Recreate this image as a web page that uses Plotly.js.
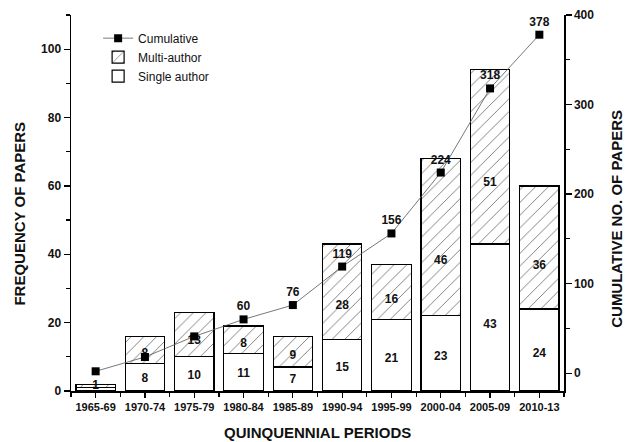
<!DOCTYPE html>
<html>
<head>
<meta charset="utf-8">
<script src="https://cdn.plot.ly/plotly-3.0.1.min.js"></script>
<style>html,body{margin:0;padding:0;background:#fff;}#chart{width:633px;height:442px;}</style>
</head>
<body>
<div id="chart"></div>
<script>
const periods = ['1965-69','1970-74','1975-79','1980-84','1985-89','1990-94','1995-99','2000-04','2005-09','2010-13'];
const singleAuthor = [1, 8, 10, 11, 7, 15, 21, 22, 43, 24];
const multiAuthor = [1, 8, 13, 8, 9, 28, 16, 46, 51, 36];
const cumulative = [2, 18, 41, 60, 76, 119, 156, 224, 318, 378];
const singleLabels = ['', '8', '10', '11', '7', '15', '21', '23', '43', '24'];
const multiLabels = ['1', '8', '13', '8', '9', '28', '16', '46', '51', '36'];
const cumulativeLabels = ['', '', '', '60', '76', '119', '156', '224', '318', '378'];

const FONT = 'Liberation Sans, Arial, sans-serif';
const xs = periods.map((_, i) => i);

const singleLabelY = singleAuthor.map(v => v * 0.45);
const multiLabelY = multiAuthor.map((v, i) => singleAuthor[i] + v * 0.35);

const labelFont = {family: FONT, size: 12, weight: 'bold', color: '#111'};
const titleFont = {family: FONT, size: 15, weight: 'bold', color: '#111'};

const traces = [
  {
    type: 'bar', name: 'Single author', x: xs, y: singleAuthor, width: 0.8,
    marker: {color: '#ffffff', line: {color: '#000', width: 1.2}},
    hoverinfo: 'skip'
  },
  {
    type: 'bar', name: 'Multi-author', x: xs, y: multiAuthor, width: 0.8,
    marker: {color: '#ffffff', line: {color: '#000', width: 1.2},
      pattern: {shape: '/', fgcolor: '#555', bgcolor: '#ffffff', size: 9, solidity: 0.08}},
    hoverinfo: 'skip'
  },
  {
    type: 'scatter', mode: 'text', x: xs, y: singleLabelY, text: singleLabels,
    textfont: labelFont, showlegend: false, hoverinfo: 'skip'
  },
  {
    type: 'scatter', mode: 'text', x: xs, y: multiLabelY, text: multiLabels,
    textfont: labelFont, showlegend: false, hoverinfo: 'skip'
  },
  {
    type: 'scatter', mode: 'lines+markers+text', name: 'Cumulative', x: xs, y: cumulative, yaxis: 'y2',
    line: {color: '#555', width: 0.8},
    marker: {symbol: 'square', size: 8, color: '#000'},
    text: cumulativeLabels, textposition: 'top center',
    textfont: labelFont, hoverinfo: 'skip'
  }
];

const layout = {
  width: 633, height: 442,
  margin: {l: 71, r: 69, t: 15, b: 51},
  paper_bgcolor: '#fff', plot_bgcolor: '#fff',
  barmode: 'stack',
  showlegend: true,
  legend: {
    x: 0.055, y: 0.977, xanchor: 'left', yanchor: 'top',
    traceorder: 'reversed', bgcolor: 'rgba(0,0,0,0)',
    font: {family: FONT, size: 12, color: '#111'},
    tracegroupgap: 0, itemwidth: 30
  },
  xaxis: {
    range: [-0.5, 9.5], tickmode: 'array', tickvals: xs, ticktext: periods,
    showline: true, linecolor: '#000', linewidth: 1.5, mirror: false,
    ticks: 'outside', ticklen: 5, tickwidth: 1.2, tickcolor: '#000',
    showgrid: false, zeroline: false,
    tickfont: {family: FONT, size: 11, weight: 'bold', color: '#111'},
    minor: {tickmode: 'array', tickvals: periods.map((_, i) => i - 0.5).concat([9.5]), ticks: 'outside', ticklen: 4, tickcolor: '#000', tickwidth: 1.2},
    automargin: false
  },
  yaxis: {
    range: [0, 110], tickmode: 'linear', tick0: 0, dtick: 20,
    showline: true, linecolor: '#000', linewidth: 1.5,
    ticks: 'outside', ticklen: 6, tickwidth: 1.2, tickcolor: '#000',
    minor: {tickmode: 'linear', tick0: 10, dtick: 20, ticks: 'outside', ticklen: 4, tickcolor: '#000', tickwidth: 1.2},
    showgrid: false, zeroline: false,
    tickfont: {family: FONT, size: 12, weight: 'bold', color: '#111'},
    automargin: false
  },
  yaxis2: {
    range: [-20, 400], overlaying: 'y', side: 'right', tickmode: 'linear', tick0: 0, dtick: 100,
    showline: true, linecolor: '#000', linewidth: 1.5,
    ticks: 'outside', ticklen: 6, tickwidth: 1.2, tickcolor: '#000',
    minor: {tickmode: 'linear', tick0: 50, dtick: 100, ticks: 'outside', ticklen: 4, tickcolor: '#000', tickwidth: 1.2},
    showgrid: false, zeroline: false,
    tickfont: {family: FONT, size: 12, weight: 'bold', color: '#111'},
    automargin: false
  },
  annotations: [
    {text: 'QUINQUENNIAL PERIODS', xref: 'paper', yref: 'paper', x: 0.5, y: -0.1117,
     xanchor: 'center', yanchor: 'middle', showarrow: false, font: titleFont},
    {text: 'FREQUENCY OF PAPERS', xref: 'paper', yref: 'paper', x: -0.1034, y: 0.472,
     xanchor: 'center', yanchor: 'middle', textangle: -90, showarrow: false, font: titleFont},
    {text: 'CUMULATIVE NO. OF PAPERS', xref: 'paper', yref: 'paper', x: 1.1075, y: 0.458,
     xanchor: 'center', yanchor: 'middle', textangle: -90, showarrow: false, font: titleFont}
  ]
};

Plotly.newPlot('chart', traces, layout, {displayModeBar: false, staticPlot: true});
</script>
</body>
</html>
